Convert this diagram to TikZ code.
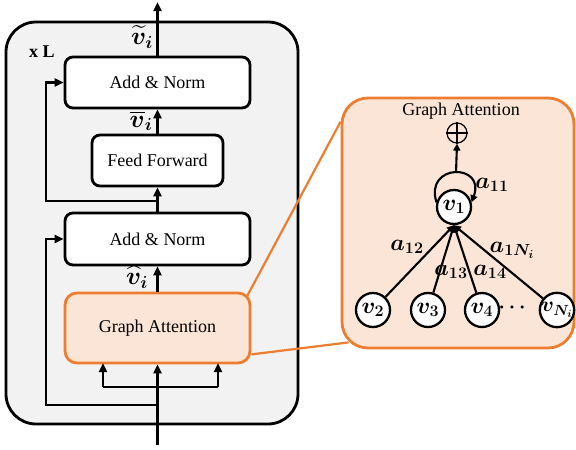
\documentclass[tikz,border=0pt]{standalone}
\usepackage{fix-cm}
\usepackage{amsmath,bm}
\usepackage{fontspec}
\setmainfont{Liberation Serif}
\usetikzlibrary{arrows.meta}
\definecolor{bggray}{HTML}{F2F2F2}
\definecolor{orng}{HTML}{ED7D31}
\definecolor{lorng}{HTML}{FBE5D6}
\begin{document}
\begin{tikzpicture}[x=1pt,y=-1pt,
  txt/.style={font=\fontsize{18}{20}\selectfont},
  mlab/.style={font=\fontsize{25}{27}\selectfont, inner sep=0pt},
  elab/.style={font=\fontsize{23}{25}\selectfont, inner sep=0pt},
  blk/.style={txt, draw, line width=2.8pt, rounded corners=8pt, fill=white, inner sep=0pt},
  gabox/.style={txt, draw=orng, line width=2.8pt, rounded corners=12pt, fill=lorng, inner sep=0pt},
  arr/.style={line width=2.5pt, -{Triangle[length=9pt,width=8pt]}},
  ln/.style={line width=2.5pt},
  gnode/.style={circle, draw, line width=2.3pt, fill=white, minimum size=34pt, inner sep=0pt, font=\fontsize{23}{25}\selectfont},
  garr/.style={line width=2.1pt, -{Triangle[length=7pt,width=7pt]}},
]
\useasboundingbox (0,0) rectangle (576,450);
% outer block
\node[draw, line width=2.8pt, fill=bggray, rounded corners=30pt, minimum width=292pt, minimum height=402pt] (outer) at (152,223) {};
\node[font=\fontsize{18}{20}\selectfont\bfseries] (xl) at (42,52) {x L};

\node[blk, minimum width=185pt, minimum height=51pt] (an2) at (157.5,82.5) {Add \& Norm};
\node[blk, minimum width=131pt, minimum height=51pt] (ff) at (157.5,160.5) {Feed Forward};
\node[blk, minimum width=185pt, minimum height=52pt] (an1) at (157.5,239) {Add \& Norm};
\node[gabox, minimum width=185pt, minimum height=70pt] (ga) at (157.5,328) {Graph Attention};

\coordinate (in) at (157.5,445);
\coordinate (out) at (157.5,2);
\coordinate (bl) at (103,387);
\coordinate (br) at (218,387);
\coordinate (blt) at (103,363);
\coordinate (brt) at (218,363);
\coordinate (res1) at (157.5,405);
\coordinate (res1c) at (46,405);
\coordinate (res2) at (157.5,201);
\coordinate (res2c) at (46,201);

\draw[arr] (in) -- (ga.south);
\draw[ln] (bl) -- (br);
\draw[arr] (bl) -- (blt);
\draw[arr] (br) -- (brt);
\draw[arr] (res1) -- (res1c) |- (an1.west);
\draw[arr] (ga.north) -- (an1.south);
\draw[arr] (an1.north) -- (ff.south);
\draw[arr] (res2) -- (res2c) |- (an2.west);
\draw[arr] (ff.north) -- (an2.south);
\draw[arr] (an2.north) -- (out);

\node[mlab] (vt) at (142,37) {$\widetilde{\bm{v}}_{\bm{i}}$};
\node[mlab] (vb) at (141,121) {$\overline{\bm{v}}_{\bm{i}}$};
\node[mlab] (vh) at (137,277) {$\widehat{\bm{v}}_{\bm{i}}$};

% right panel
\node[draw=orng, line width=2.8pt, fill=lorng, rounded corners=26pt, minimum width=232pt, minimum height=250pt] (gp) at (458,223) {};
\draw[orng, line width=2.2pt] ([xshift=-4pt,yshift=-4pt]ga.north east) -- ([xshift=0pt,yshift=-25pt]gp.north west);
\draw[orng, line width=2.2pt] ([yshift=10pt]ga.south east) -- ([xshift=8pt,yshift=7pt]gp.south west);

\node[txt] (gt) at (461,111) {Graph Attention};
\node[circle, draw, line width=1.2pt, minimum size=20pt, inner sep=0pt] (op) at (457,133) {};
\draw[line width=1.2pt] (op.north) -- (op.south) (op.west) -- (op.east);

\node[gnode] (v1) at (454,207) {$\bm{v}_{\bm 1}$};
\node[gnode] (v2) at (373,310) {$\bm{v}_{\bm 2}$};
\node[gnode] (v3) at (428,310) {$\bm{v}_{\bm 3}$};
\node[gnode] (v4) at (482,310) {$\bm{v}_{\bm 4}$};
\node[gnode, font=\fontsize{21}{23}\selectfont] (vn) at (557,310) {$\bm{v}_{\bm{N_i}}$};
\node[font=\fontsize{20}{22}\selectfont] (dots) at (514,308) {$\bm\cdots$};

\coordinate (lt) at (456,173);
\draw[garr] (v1.165) .. controls (424,163) and (486,163) .. (v1.15);
\draw[garr] (lt) -- (op.south);
\node[elab] (a11) at (492,185) {$\bm{a}_{\bm{11}}$};

\draw[garr] (v2) -- (v1.south);
\draw[garr] (v3) -- (v1.south);
\draw[garr] (v4) -- (v1.south);
\draw[garr] (vn) -- (v1.south);
\node[elab] (a12) at (407,247) {$\bm{a}_{\bm{12}}$};
\node[elab] (a13) at (451,272) {$\bm{a}_{\bm{13}}$};
\node[elab] (a14) at (490,272) {$\bm{a}_{\bm{14}}$};
\node[elab] (a1n) at (512,250) {$\bm{a}_{\bm{1N_i}}$};
\end{tikzpicture}
\end{document}
